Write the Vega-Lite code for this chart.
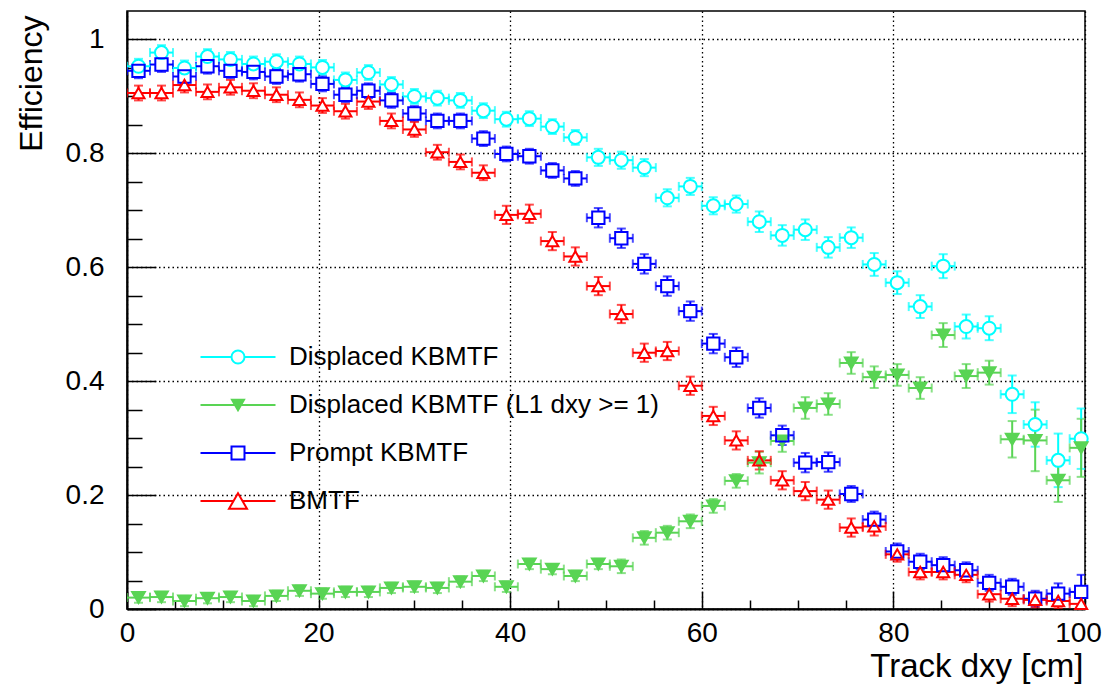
{
"$schema": "https://vega.github.io/schema/vega-lite/v6.json",
"width": 958, "height": 598,
"autosize": {"type": "none"},
"padding": {"left": 127, "top": 11, "right": 18, "bottom": 76},
"background": "white",
"config": {"view": {"stroke": "black", "strokeWidth": 1.5}, "font": "Liberation Sans"},
"datasets": {"pts": [
{"s":"Displaced KBMTF","x":1.2,"y":0.953,"ey":0.013,"ex":1.2},
{"s":"Displaced KBMTF","x":3.6,"y":0.977,"ey":0.013,"ex":1.2},
{"s":"Displaced KBMTF","x":6.0,"y":0.950,"ey":0.013,"ex":1.2},
{"s":"Displaced KBMTF","x":8.4,"y":0.970,"ey":0.013,"ex":1.2},
{"s":"Displaced KBMTF","x":10.8,"y":0.965,"ey":0.013,"ex":1.2},
{"s":"Displaced KBMTF","x":13.2,"y":0.957,"ey":0.013,"ex":1.2},
{"s":"Displaced KBMTF","x":15.6,"y":0.961,"ey":0.013,"ex":1.2},
{"s":"Displaced KBMTF","x":18.0,"y":0.957,"ey":0.013,"ex":1.2},
{"s":"Displaced KBMTF","x":20.4,"y":0.951,"ey":0.013,"ex":1.2},
{"s":"Displaced KBMTF","x":22.8,"y":0.929,"ey":0.013,"ex":1.2},
{"s":"Displaced KBMTF","x":25.2,"y":0.942,"ey":0.013,"ex":1.2},
{"s":"Displaced KBMTF","x":27.6,"y":0.921,"ey":0.013,"ex":1.2},
{"s":"Displaced KBMTF","x":30.0,"y":0.900,"ey":0.013,"ex":1.2},
{"s":"Displaced KBMTF","x":32.4,"y":0.897,"ey":0.013,"ex":1.2},
{"s":"Displaced KBMTF","x":34.8,"y":0.893,"ey":0.013,"ex":1.2},
{"s":"Displaced KBMTF","x":37.2,"y":0.875,"ey":0.013,"ex":1.2},
{"s":"Displaced KBMTF","x":39.6,"y":0.860,"ey":0.013,"ex":1.2},
{"s":"Displaced KBMTF","x":42.0,"y":0.861,"ey":0.013,"ex":1.2},
{"s":"Displaced KBMTF","x":44.4,"y":0.847,"ey":0.013,"ex":1.2},
{"s":"Displaced KBMTF","x":46.8,"y":0.828,"ey":0.013,"ex":1.2},
{"s":"Displaced KBMTF","x":49.2,"y":0.793,"ey":0.015,"ex":1.2},
{"s":"Displaced KBMTF","x":51.6,"y":0.788,"ey":0.015,"ex":1.2},
{"s":"Displaced KBMTF","x":54.0,"y":0.775,"ey":0.015,"ex":1.2},
{"s":"Displaced KBMTF","x":56.4,"y":0.722,"ey":0.015,"ex":1.2},
{"s":"Displaced KBMTF","x":58.8,"y":0.742,"ey":0.015,"ex":1.2},
{"s":"Displaced KBMTF","x":61.2,"y":0.708,"ey":0.015,"ex":1.2},
{"s":"Displaced KBMTF","x":63.6,"y":0.711,"ey":0.015,"ex":1.2},
{"s":"Displaced KBMTF","x":66.0,"y":0.680,"ey":0.018,"ex":1.2},
{"s":"Displaced KBMTF","x":68.4,"y":0.656,"ey":0.018,"ex":1.2},
{"s":"Displaced KBMTF","x":70.8,"y":0.666,"ey":0.018,"ex":1.2},
{"s":"Displaced KBMTF","x":73.2,"y":0.635,"ey":0.018,"ex":1.2},
{"s":"Displaced KBMTF","x":75.6,"y":0.652,"ey":0.018,"ex":1.2},
{"s":"Displaced KBMTF","x":78.0,"y":0.605,"ey":0.020,"ex":1.2},
{"s":"Displaced KBMTF","x":80.4,"y":0.573,"ey":0.020,"ex":1.2},
{"s":"Displaced KBMTF","x":82.8,"y":0.531,"ey":0.020,"ex":1.2},
{"s":"Displaced KBMTF","x":85.2,"y":0.602,"ey":0.021,"ex":1.2},
{"s":"Displaced KBMTF","x":87.6,"y":0.496,"ey":0.021,"ex":1.2},
{"s":"Displaced KBMTF","x":90.0,"y":0.493,"ey":0.021,"ex":1.2},
{"s":"Displaced KBMTF","x":92.4,"y":0.377,"ey":0.033,"ex":1.2},
{"s":"Displaced KBMTF","x":94.8,"y":0.324,"ey":0.039,"ex":1.2},
{"s":"Displaced KBMTF","x":97.2,"y":0.261,"ey":0.047,"ex":1.2},
{"s":"Displaced KBMTF","x":99.6,"y":0.299,"ey":0.053,"ex":1.2},
{"s":"Displaced KBMTF (L1 dxy >= 1)","x":1.2,"y":0.020,"ey":0.009,"ex":1.2},
{"s":"Displaced KBMTF (L1 dxy >= 1)","x":3.6,"y":0.021,"ey":0.009,"ex":1.2},
{"s":"Displaced KBMTF (L1 dxy >= 1)","x":6.0,"y":0.014,"ey":0.009,"ex":1.2},
{"s":"Displaced KBMTF (L1 dxy >= 1)","x":8.4,"y":0.019,"ey":0.009,"ex":1.2},
{"s":"Displaced KBMTF (L1 dxy >= 1)","x":10.8,"y":0.021,"ey":0.009,"ex":1.2},
{"s":"Displaced KBMTF (L1 dxy >= 1)","x":13.2,"y":0.014,"ey":0.009,"ex":1.2},
{"s":"Displaced KBMTF (L1 dxy >= 1)","x":15.6,"y":0.023,"ey":0.009,"ex":1.2},
{"s":"Displaced KBMTF (L1 dxy >= 1)","x":18.0,"y":0.032,"ey":0.009,"ex":1.2},
{"s":"Displaced KBMTF (L1 dxy >= 1)","x":20.4,"y":0.027,"ey":0.009,"ex":1.2},
{"s":"Displaced KBMTF (L1 dxy >= 1)","x":22.8,"y":0.030,"ey":0.009,"ex":1.2},
{"s":"Displaced KBMTF (L1 dxy >= 1)","x":25.2,"y":0.030,"ey":0.009,"ex":1.2},
{"s":"Displaced KBMTF (L1 dxy >= 1)","x":27.6,"y":0.037,"ey":0.009,"ex":1.2},
{"s":"Displaced KBMTF (L1 dxy >= 1)","x":30.0,"y":0.039,"ey":0.009,"ex":1.2},
{"s":"Displaced KBMTF (L1 dxy >= 1)","x":32.4,"y":0.037,"ey":0.009,"ex":1.2},
{"s":"Displaced KBMTF (L1 dxy >= 1)","x":34.8,"y":0.048,"ey":0.009,"ex":1.2},
{"s":"Displaced KBMTF (L1 dxy >= 1)","x":37.2,"y":0.058,"ey":0.009,"ex":1.2},
{"s":"Displaced KBMTF (L1 dxy >= 1)","x":39.6,"y":0.039,"ey":0.009,"ex":1.2},
{"s":"Displaced KBMTF (L1 dxy >= 1)","x":42.0,"y":0.079,"ey":0.009,"ex":1.2},
{"s":"Displaced KBMTF (L1 dxy >= 1)","x":44.4,"y":0.070,"ey":0.009,"ex":1.2},
{"s":"Displaced KBMTF (L1 dxy >= 1)","x":46.8,"y":0.058,"ey":0.009,"ex":1.2},
{"s":"Displaced KBMTF (L1 dxy >= 1)","x":49.2,"y":0.079,"ey":0.009,"ex":1.2},
{"s":"Displaced KBMTF (L1 dxy >= 1)","x":51.6,"y":0.075,"ey":0.012,"ex":1.2},
{"s":"Displaced KBMTF (L1 dxy >= 1)","x":54.0,"y":0.125,"ey":0.012,"ex":1.2},
{"s":"Displaced KBMTF (L1 dxy >= 1)","x":56.4,"y":0.134,"ey":0.012,"ex":1.2},
{"s":"Displaced KBMTF (L1 dxy >= 1)","x":58.8,"y":0.154,"ey":0.012,"ex":1.2},
{"s":"Displaced KBMTF (L1 dxy >= 1)","x":61.2,"y":0.181,"ey":0.012,"ex":1.2},
{"s":"Displaced KBMTF (L1 dxy >= 1)","x":63.6,"y":0.225,"ey":0.012,"ex":1.2},
{"s":"Displaced KBMTF (L1 dxy >= 1)","x":66.0,"y":0.257,"ey":0.019,"ex":1.2},
{"s":"Displaced KBMTF (L1 dxy >= 1)","x":68.4,"y":0.295,"ey":0.019,"ex":1.2},
{"s":"Displaced KBMTF (L1 dxy >= 1)","x":70.8,"y":0.353,"ey":0.019,"ex":1.2},
{"s":"Displaced KBMTF (L1 dxy >= 1)","x":73.2,"y":0.360,"ey":0.019,"ex":1.2},
{"s":"Displaced KBMTF (L1 dxy >= 1)","x":75.6,"y":0.432,"ey":0.019,"ex":1.2},
{"s":"Displaced KBMTF (L1 dxy >= 1)","x":78.0,"y":0.407,"ey":0.019,"ex":1.2},
{"s":"Displaced KBMTF (L1 dxy >= 1)","x":80.4,"y":0.411,"ey":0.019,"ex":1.2},
{"s":"Displaced KBMTF (L1 dxy >= 1)","x":82.8,"y":0.388,"ey":0.019,"ex":1.2},
{"s":"Displaced KBMTF (L1 dxy >= 1)","x":85.2,"y":0.481,"ey":0.021,"ex":1.2},
{"s":"Displaced KBMTF (L1 dxy >= 1)","x":87.6,"y":0.409,"ey":0.021,"ex":1.2},
{"s":"Displaced KBMTF (L1 dxy >= 1)","x":90.0,"y":0.415,"ey":0.021,"ex":1.2},
{"s":"Displaced KBMTF (L1 dxy >= 1)","x":92.4,"y":0.298,"ey":0.032,"ex":1.2},
{"s":"Displaced KBMTF (L1 dxy >= 1)","x":94.8,"y":0.296,"ey":0.054,"ex":1.2},
{"s":"Displaced KBMTF (L1 dxy >= 1)","x":97.2,"y":0.226,"ey":0.038,"ex":1.2},
{"s":"Displaced KBMTF (L1 dxy >= 1)","x":99.6,"y":0.283,"ey":0.051,"ex":1.2},
{"s":"Prompt KBMTF","x":1.2,"y":0.945,"ey":0.013,"ex":1.2},
{"s":"Prompt KBMTF","x":3.6,"y":0.956,"ey":0.013,"ex":1.2},
{"s":"Prompt KBMTF","x":6.0,"y":0.935,"ey":0.013,"ex":1.2},
{"s":"Prompt KBMTF","x":8.4,"y":0.953,"ey":0.013,"ex":1.2},
{"s":"Prompt KBMTF","x":10.8,"y":0.945,"ey":0.013,"ex":1.2},
{"s":"Prompt KBMTF","x":13.2,"y":0.943,"ey":0.013,"ex":1.2},
{"s":"Prompt KBMTF","x":15.6,"y":0.935,"ey":0.013,"ex":1.2},
{"s":"Prompt KBMTF","x":18.0,"y":0.939,"ey":0.013,"ex":1.2},
{"s":"Prompt KBMTF","x":20.4,"y":0.922,"ey":0.013,"ex":1.2},
{"s":"Prompt KBMTF","x":22.8,"y":0.903,"ey":0.013,"ex":1.2},
{"s":"Prompt KBMTF","x":25.2,"y":0.910,"ey":0.013,"ex":1.2},
{"s":"Prompt KBMTF","x":27.6,"y":0.893,"ey":0.013,"ex":1.2},
{"s":"Prompt KBMTF","x":30.0,"y":0.870,"ey":0.013,"ex":1.2},
{"s":"Prompt KBMTF","x":32.4,"y":0.857,"ey":0.013,"ex":1.2},
{"s":"Prompt KBMTF","x":34.8,"y":0.857,"ey":0.013,"ex":1.2},
{"s":"Prompt KBMTF","x":37.2,"y":0.826,"ey":0.013,"ex":1.2},
{"s":"Prompt KBMTF","x":39.6,"y":0.799,"ey":0.013,"ex":1.2},
{"s":"Prompt KBMTF","x":42.0,"y":0.795,"ey":0.013,"ex":1.2},
{"s":"Prompt KBMTF","x":44.4,"y":0.770,"ey":0.013,"ex":1.2},
{"s":"Prompt KBMTF","x":46.8,"y":0.756,"ey":0.013,"ex":1.2},
{"s":"Prompt KBMTF","x":49.2,"y":0.687,"ey":0.017,"ex":1.2},
{"s":"Prompt KBMTF","x":51.6,"y":0.651,"ey":0.017,"ex":1.2},
{"s":"Prompt KBMTF","x":54.0,"y":0.606,"ey":0.017,"ex":1.2},
{"s":"Prompt KBMTF","x":56.4,"y":0.567,"ey":0.017,"ex":1.2},
{"s":"Prompt KBMTF","x":58.8,"y":0.523,"ey":0.017,"ex":1.2},
{"s":"Prompt KBMTF","x":61.2,"y":0.466,"ey":0.017,"ex":1.2},
{"s":"Prompt KBMTF","x":63.6,"y":0.442,"ey":0.017,"ex":1.2},
{"s":"Prompt KBMTF","x":66.0,"y":0.353,"ey":0.017,"ex":1.2},
{"s":"Prompt KBMTF","x":68.4,"y":0.305,"ey":0.017,"ex":1.2},
{"s":"Prompt KBMTF","x":70.8,"y":0.257,"ey":0.017,"ex":1.2},
{"s":"Prompt KBMTF","x":73.2,"y":0.258,"ey":0.017,"ex":1.2},
{"s":"Prompt KBMTF","x":75.6,"y":0.202,"ey":0.014,"ex":1.2},
{"s":"Prompt KBMTF","x":78.0,"y":0.157,"ey":0.014,"ex":1.2},
{"s":"Prompt KBMTF","x":80.4,"y":0.101,"ey":0.014,"ex":1.2},
{"s":"Prompt KBMTF","x":82.8,"y":0.083,"ey":0.014,"ex":1.2},
{"s":"Prompt KBMTF","x":85.2,"y":0.077,"ey":0.014,"ex":1.2},
{"s":"Prompt KBMTF","x":87.6,"y":0.068,"ey":0.014,"ex":1.2},
{"s":"Prompt KBMTF","x":90.0,"y":0.046,"ey":0.014,"ex":1.2},
{"s":"Prompt KBMTF","x":92.4,"y":0.039,"ey":0.014,"ex":1.2},
{"s":"Prompt KBMTF","x":94.8,"y":0.018,"ey":0.014,"ex":1.2},
{"s":"Prompt KBMTF","x":97.2,"y":0.027,"ey":0.018,"ex":1.2},
{"s":"Prompt KBMTF","x":99.6,"y":0.030,"ey":0.030,"ex":1.2},
{"s":"BMTF","x":1.2,"y":0.906,"ey":0.013,"ex":1.2},
{"s":"BMTF","x":3.6,"y":0.906,"ey":0.013,"ex":1.2},
{"s":"BMTF","x":6.0,"y":0.920,"ey":0.013,"ex":1.2},
{"s":"BMTF","x":8.4,"y":0.908,"ey":0.013,"ex":1.2},
{"s":"BMTF","x":10.8,"y":0.916,"ey":0.013,"ex":1.2},
{"s":"BMTF","x":13.2,"y":0.910,"ey":0.013,"ex":1.2},
{"s":"BMTF","x":15.6,"y":0.903,"ey":0.013,"ex":1.2},
{"s":"BMTF","x":18.0,"y":0.894,"ey":0.013,"ex":1.2},
{"s":"BMTF","x":20.4,"y":0.884,"ey":0.013,"ex":1.2},
{"s":"BMTF","x":22.8,"y":0.874,"ey":0.013,"ex":1.2},
{"s":"BMTF","x":25.2,"y":0.891,"ey":0.013,"ex":1.2},
{"s":"BMTF","x":27.6,"y":0.857,"ey":0.013,"ex":1.2},
{"s":"BMTF","x":30.0,"y":0.842,"ey":0.013,"ex":1.2},
{"s":"BMTF","x":32.4,"y":0.802,"ey":0.013,"ex":1.2},
{"s":"BMTF","x":34.8,"y":0.785,"ey":0.013,"ex":1.2},
{"s":"BMTF","x":37.2,"y":0.766,"ey":0.013,"ex":1.2},
{"s":"BMTF","x":39.6,"y":0.692,"ey":0.016,"ex":1.2},
{"s":"BMTF","x":42.0,"y":0.694,"ey":0.016,"ex":1.2},
{"s":"BMTF","x":44.4,"y":0.646,"ey":0.016,"ex":1.2},
{"s":"BMTF","x":46.8,"y":0.619,"ey":0.016,"ex":1.2},
{"s":"BMTF","x":49.2,"y":0.567,"ey":0.016,"ex":1.2},
{"s":"BMTF","x":51.6,"y":0.518,"ey":0.016,"ex":1.2},
{"s":"BMTF","x":54.0,"y":0.450,"ey":0.016,"ex":1.2},
{"s":"BMTF","x":56.4,"y":0.453,"ey":0.016,"ex":1.2},
{"s":"BMTF","x":58.8,"y":0.392,"ey":0.016,"ex":1.2},
{"s":"BMTF","x":61.2,"y":0.339,"ey":0.016,"ex":1.2},
{"s":"BMTF","x":63.6,"y":0.296,"ey":0.016,"ex":1.2},
{"s":"BMTF","x":66.0,"y":0.261,"ey":0.016,"ex":1.2},
{"s":"BMTF","x":68.4,"y":0.226,"ey":0.016,"ex":1.2},
{"s":"BMTF","x":70.8,"y":0.207,"ey":0.016,"ex":1.2},
{"s":"BMTF","x":73.2,"y":0.192,"ey":0.016,"ex":1.2},
{"s":"BMTF","x":75.6,"y":0.143,"ey":0.016,"ex":1.2},
{"s":"BMTF","x":78.0,"y":0.145,"ey":0.016,"ex":1.2},
{"s":"BMTF","x":80.4,"y":0.096,"ey":0.013,"ex":1.2},
{"s":"BMTF","x":82.8,"y":0.065,"ey":0.013,"ex":1.2},
{"s":"BMTF","x":85.2,"y":0.065,"ey":0.013,"ex":1.2},
{"s":"BMTF","x":87.6,"y":0.060,"ey":0.013,"ex":1.2},
{"s":"BMTF","x":90.0,"y":0.026,"ey":0.013,"ex":1.2},
{"s":"BMTF","x":92.4,"y":0.018,"ey":0.013,"ex":1.2},
{"s":"BMTF","x":94.8,"y":0.016,"ey":0.013,"ex":1.2},
{"s":"BMTF","x":97.2,"y":0.014,"ey":0.013,"ex":1.2},
{"s":"BMTF","x":99.6,"y":0.009,"ey":0.013,"ex":1.2}
]},
"data": {"name": "pts"},
"layer": [
{
"mark": {"type": "errorbar", "ticks": true, "size": 9, "thickness": 2, "clip": true},
"encoding": {
"x": {"field": "x", "type": "quantitative", "scale": {"domain": [0, 100], "nice": false, "zero": false},
"axis": {"orient": "bottom", "values": [0, 20, 40, 60, 80, 100], "format": "d", "tickSize": -18, "tickWidth": 1.5, "tickColor": "black", "domain": true, "domainColor": "black", "domainWidth": 2, "grid": true, "gridColor": "black", "gridDash": [1.5, 3], "gridWidth": 1.3, "gridOpacity": 1, "labelFontSize": 28, "labelFont": "Liberation Sans", "labelColor": "black", "labelPadding": 28, "labelFlush": false, "labelOverlap": false, "labelOffset": {"condition": {"test": "datum.value == 100", "value": -7}, "value": 0}, "title": "Track dxy [cm]", "titleFont": "Liberation Sans", "titleFontSize": 33, "titleFontWeight": "normal", "titleColor": "black", "titleAlign": "right", "titleBaseline": "alphabetic", "titleAnchor": "end", "titleX": 956, "titleY": 67}},
"y": {"field": "y", "type": "quantitative", "scale": {"domain": [0, 1.05], "nice": false, "zero": false},
"axis": {"orient": "left", "values": [0, 0.2, 0.4, 0.6, 0.8, 1], "format": "~g", "tickSize": -29, "tickWidth": 1.5, "tickColor": "black", "domain": true, "domainColor": "black", "domainWidth": 2, "grid": true, "gridColor": "black", "gridDash": [1.5, 3], "gridWidth": 1.3, "gridOpacity": 1, "labelFontSize": 28, "labelFont": "Liberation Sans", "labelColor": "black", "labelPadding": 52, "labelFlush": false, "labelOverlap": false, "title": "Efficiency", "titleFont": "Liberation Sans", "titleFontSize": 32, "titleFontWeight": "normal", "titleColor": "black", "titleAngle": 270, "titleAlign": "right", "titleBaseline": "alphabetic", "titleX": -86, "titleY": 4}},
"yError": {"field": "ey"},
"color": {"field": "s", "type": "nominal", "scale": {"domain": ["Displaced KBMTF", "Displaced KBMTF (L1 dxy >= 1)", "Prompt KBMTF", "BMTF"], "range": ["#00ffff", "#59d454", "#0000ff", "#ff0000"]}, "legend": null}
}
},
{
"mark": {"type": "errorbar", "ticks": true, "size": 9, "thickness": 2, "clip": true},
"encoding": {
"x": {"field": "x", "type": "quantitative",
"axis": {"orient": "bottom", "values": [5, 10, 15, 25, 30, 35, 45, 50, 55, 65, 70, 75, 85, 90, 95], "tickSize": -9, "tickWidth": 1.5, "tickColor": "black", "domain": false, "grid": false, "labels": false, "title": null}},
"xError": {"field": "ex"},
"y": {"field": "y", "type": "quantitative",
"axis": {"orient": "left", "values": [0.05, 0.1, 0.15, 0.25, 0.3, 0.35, 0.45, 0.5, 0.55, 0.65, 0.7, 0.75, 0.85, 0.9, 0.95], "tickSize": -15, "tickWidth": 1.5, "tickColor": "black", "domain": false, "grid": false, "labels": false, "title": null}},
"color": {"field": "s", "type": "nominal", "legend": null}
}
},
{
"mark": {"type": "point", "filled": true, "fill": "white", "opacity": 1, "strokeWidth": 0},
"encoding": {
"x": {"field": "x", "type": "quantitative", "axis": null},
"y": {"field": "y", "type": "quantitative", "axis": null},
"shape": {"field": "s", "type": "nominal", "scale": {"domain": ["Displaced KBMTF", "Displaced KBMTF (L1 dxy >= 1)", "Prompt KBMTF", "BMTF"], "range": ["circle", "triangle-down", "square", "triangle-up"]}, "legend": null},
"size": {"field": "s", "type": "nominal", "scale": {"domain": ["Displaced KBMTF", "Displaced KBMTF (L1 dxy >= 1)", "Prompt KBMTF", "BMTF"], "range": [169, 144, 169, 324]}, "legend": null}
}
},
{
"mark": {"type": "point", "filled": false, "opacity": 1, "strokeWidth": 2},
"encoding": {
"x": {"field": "x", "type": "quantitative", "axis": null},
"y": {"field": "y", "type": "quantitative", "axis": null},
"shape": {"field": "s", "type": "nominal", "scale": {"domain": ["Displaced KBMTF", "Displaced KBMTF (L1 dxy >= 1)", "Prompt KBMTF", "BMTF"], "range": ["circle", "triangle-down", "square", "triangle-up"]}, "legend": null},
"size": {"field": "s", "type": "nominal", "scale": {"domain": ["Displaced KBMTF", "Displaced KBMTF (L1 dxy >= 1)", "Prompt KBMTF", "BMTF"], "range": [169, 144, 169, 324]}, "legend": null},
"stroke": {"field": "s", "type": "nominal", "scale": {"domain": ["Displaced KBMTF", "Displaced KBMTF (L1 dxy >= 1)", "Prompt KBMTF", "BMTF"], "range": ["#00ffff", "#59d454", "#0000ff", "#ff0000"]}, "legend": null},
"fill": {"field": "s", "type": "nominal", "scale": {"domain": ["Displaced KBMTF", "Displaced KBMTF (L1 dxy >= 1)", "Prompt KBMTF", "BMTF"], "range": ["transparent", "#59d454", "transparent", "transparent"]}, "legend": null}
}
},
{
"mark": {"type": "point", "filled": true, "opacity": 0, "strokeWidth": 2},
"encoding": {
"x": {"field": "x", "type": "quantitative", "axis": null},
"y": {"field": "y", "type": "quantitative", "axis": null},
"shape": {"field": "s", "type": "nominal", "scale": {"domain": ["Displaced KBMTF", "Displaced KBMTF (L1 dxy >= 1)", "Prompt KBMTF", "BMTF"], "range": ["M-2.5,0H-0.433M0.433,0H2.5M0.433,0A0.433,0.433,0,1,1,-0.433,0A0.433,0.433,0,1,1,0.433,0Z", "M-2.5,0H2.5M-0.4,-0.347H0.4L0,0.347Z", "M-2.5,0H-0.433M0.433,0H2.5M-0.433,-0.433H0.433V0.433H-0.433Z", "M-2.5,0H-0.3M0.3,0H2.5M0,-0.52L0.6,0.52H-0.6Z"]},
"legend": {"orient": "none", "legendX": 95, "legendY": 330, "title": null, "symbolSize": 900, "symbolStrokeWidth": 2, "symbolOpacity": 1, "labelFontSize": 26, "labelFont": "Liberation Sans", "labelColor": "black", "labelOffset": 35, "rowPadding": 19, "padding": 0, "labelBaseline": "middle", "labelLimit": 1000}},
"stroke": {"field": "s", "type": "nominal", "scale": {"domain": ["Displaced KBMTF", "Displaced KBMTF (L1 dxy >= 1)", "Prompt KBMTF", "BMTF"], "range": ["#00ffff", "#59d454", "#0000ff", "#ff0000"]},
"legend": {"orient": "none", "legendX": 95, "legendY": 330, "title": null, "symbolSize": 900, "symbolStrokeWidth": 2, "symbolOpacity": 1, "labelFontSize": 26, "labelFont": "Liberation Sans", "labelColor": "black", "labelOffset": 35, "rowPadding": 19, "padding": 0, "labelBaseline": "middle", "labelLimit": 1000}},
"fill": {"field": "s", "type": "nominal", "scale": {"domain": ["Displaced KBMTF", "Displaced KBMTF (L1 dxy >= 1)", "Prompt KBMTF", "BMTF"], "range": ["transparent", "#59d454", "transparent", "transparent"]},
"legend": {"orient": "none", "legendX": 95, "legendY": 330, "title": null, "symbolSize": 900, "symbolStrokeWidth": 2, "symbolOpacity": 1, "labelFontSize": 26, "labelFont": "Liberation Sans", "labelColor": "black", "labelOffset": 35, "rowPadding": 19, "padding": 0, "labelBaseline": "middle", "labelLimit": 1000}}
}
}
],
"resolve": {"axis": {"x": "independent", "y": "independent"}, "scale": {"shape": "independent", "stroke": "independent", "fill": "independent"}}
}
